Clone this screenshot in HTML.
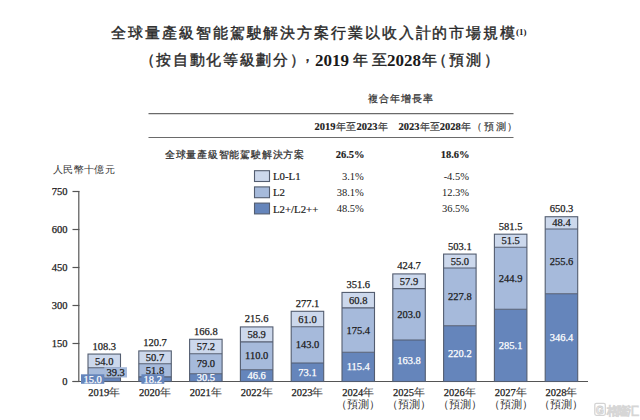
<!DOCTYPE html>
<html lang="zh-Hant"><head><meta charset="utf-8">
<style>
html,body{margin:0;padding:0;background:#fff;width:640px;height:420px;overflow:hidden}
svg{display:block}
text{font-family:"Liberation Serif",serif;fill:#1c1c1c}
.n{font-size:10.5px;stroke:#1c1c1c;stroke-width:0.25px}
.w{fill:#fff;stroke:#fff}
.lg{font-size:10.8px;stroke:#1c1c1c;stroke-width:0.2px}
.u{font-size:9.8px;fill:#333}
.cj{stroke:none;fill:#333}
.v{font-size:10.5px;fill:#222}
.c2{font-family:"Liberation Sans",sans-serif;font-size:9.8px;fill:#333;stroke:#333;stroke-width:0.15px}
.nb{font-size:10.5px;font-weight:bold;stroke:#1c1c1c;stroke-width:0.15px}
.c{font-family:"Liberation Sans",sans-serif;font-size:9.8px;fill:#2e2e2e;stroke:#2e2e2e;stroke-width:0.22px}
.t{font-family:"Liberation Sans",sans-serif;font-size:15.2px;fill:#2a2a2a;stroke:#2a2a2a;stroke-width:0.4px}
.tb{font-family:"Liberation Serif",serif;font-size:17px;font-weight:bold;fill:#1a1a1a}
.sup{font-family:"Liberation Serif",serif;font-size:9px;font-weight:bold;fill:#222}
</style></head><body>
<svg width="640" height="420" viewBox="0 0 640 420">
<line x1="78.8" y1="191" x2="78.8" y2="381.5" stroke="#555" stroke-width="1.2"/>
<line x1="72.5" y1="381.5" x2="588" y2="381.5" stroke="#555" stroke-width="1.2"/>
<line x1="72.5" y1="381.50" x2="79.4" y2="381.50" stroke="#555" stroke-width="1.2"/>
<text x="67.5" y="385.10" text-anchor="end" class="n">0</text>
<line x1="72.5" y1="343.50" x2="79.4" y2="343.50" stroke="#555" stroke-width="1.2"/>
<text x="67.5" y="347.10" text-anchor="end" class="n">150</text>
<line x1="72.5" y1="305.50" x2="79.4" y2="305.50" stroke="#555" stroke-width="1.2"/>
<text x="67.5" y="309.10" text-anchor="end" class="n">300</text>
<line x1="72.5" y1="267.50" x2="79.4" y2="267.50" stroke="#555" stroke-width="1.2"/>
<text x="67.5" y="271.10" text-anchor="end" class="n">450</text>
<line x1="72.5" y1="229.50" x2="79.4" y2="229.50" stroke="#555" stroke-width="1.2"/>
<text x="67.5" y="233.10" text-anchor="end" class="n">600</text>
<line x1="72.5" y1="191.50" x2="79.4" y2="191.50" stroke="#555" stroke-width="1.2"/>
<text x="67.5" y="195.10" text-anchor="end" class="n">750</text>
<rect x="88.00" y="377.70" width="32.5" height="3.80" fill="#6585bb"/>
<rect x="88.00" y="367.74" width="32.5" height="9.96" fill="#a6badb"/>
<rect x="88.00" y="354.06" width="32.5" height="13.68" fill="#ccd8ec"/>
<rect x="88.00" y="354.06" width="32.5" height="27.44" fill="none" stroke="#535d70" stroke-width="1.1"/>
<line x1="88.00" y1="377.70" x2="120.50" y2="377.70" stroke="#535d70" stroke-width="1.1"/>
<line x1="88.00" y1="367.74" x2="120.50" y2="367.74" stroke="#535d70" stroke-width="1.1"/>
<text x="104.25" y="349.56" text-anchor="middle" class="n">108.3</text>
<text x="104.25" y="364.50" text-anchor="middle" class="n">54.0</text>
<text x="104.25" y="396" text-anchor="middle" class="n">2019<tspan class="cj">年</tspan></text>
<rect x="138.80" y="376.89" width="32.5" height="4.61" fill="#6585bb"/>
<rect x="138.80" y="363.77" width="32.5" height="13.12" fill="#a6badb"/>
<rect x="138.80" y="350.92" width="32.5" height="12.84" fill="#ccd8ec"/>
<rect x="138.80" y="350.92" width="32.5" height="30.58" fill="none" stroke="#535d70" stroke-width="1.1"/>
<line x1="138.80" y1="376.89" x2="171.30" y2="376.89" stroke="#535d70" stroke-width="1.1"/>
<line x1="138.80" y1="363.77" x2="171.30" y2="363.77" stroke="#535d70" stroke-width="1.1"/>
<text x="155.05" y="346.42" text-anchor="middle" class="n">120.7</text>
<text x="155.05" y="360.94" text-anchor="middle" class="n">50.7</text>
<text x="155.05" y="396" text-anchor="middle" class="n">2020<tspan class="cj">年</tspan></text>
<rect x="189.60" y="373.77" width="32.5" height="7.73" fill="#6585bb"/>
<rect x="189.60" y="353.76" width="32.5" height="20.01" fill="#a6badb"/>
<rect x="189.60" y="339.27" width="32.5" height="14.49" fill="#ccd8ec"/>
<rect x="189.60" y="339.27" width="32.5" height="42.23" fill="none" stroke="#535d70" stroke-width="1.1"/>
<line x1="189.60" y1="373.77" x2="222.10" y2="373.77" stroke="#535d70" stroke-width="1.1"/>
<line x1="189.60" y1="353.76" x2="222.10" y2="353.76" stroke="#535d70" stroke-width="1.1"/>
<text x="205.85" y="334.77" text-anchor="middle" class="n">166.8</text>
<text x="205.85" y="350.11" text-anchor="middle" class="n">57.2</text>
<text x="205.85" y="367.37" text-anchor="middle" class="n">79.0</text>
<text x="205.85" y="381.24" text-anchor="middle" class="n w">30.5</text>
<text x="205.85" y="396" text-anchor="middle" class="n">2021<tspan class="cj">年</tspan></text>
<rect x="240.40" y="369.69" width="32.5" height="11.81" fill="#6585bb"/>
<rect x="240.40" y="341.83" width="32.5" height="27.87" fill="#a6badb"/>
<rect x="240.40" y="326.91" width="32.5" height="14.92" fill="#ccd8ec"/>
<rect x="240.40" y="326.91" width="32.5" height="54.59" fill="none" stroke="#535d70" stroke-width="1.1"/>
<line x1="240.40" y1="369.69" x2="272.90" y2="369.69" stroke="#535d70" stroke-width="1.1"/>
<line x1="240.40" y1="341.83" x2="272.90" y2="341.83" stroke="#535d70" stroke-width="1.1"/>
<text x="256.65" y="322.41" text-anchor="middle" class="n">215.6</text>
<text x="256.65" y="337.97" text-anchor="middle" class="n">58.9</text>
<text x="256.65" y="359.36" text-anchor="middle" class="n">110.0</text>
<text x="256.65" y="379.20" text-anchor="middle" class="n w">46.6</text>
<text x="256.65" y="396" text-anchor="middle" class="n">2022<tspan class="cj">年</tspan></text>
<rect x="291.20" y="362.98" width="32.5" height="18.52" fill="#6585bb"/>
<rect x="291.20" y="326.75" width="32.5" height="36.23" fill="#a6badb"/>
<rect x="291.20" y="311.30" width="32.5" height="15.45" fill="#ccd8ec"/>
<rect x="291.20" y="311.30" width="32.5" height="70.20" fill="none" stroke="#535d70" stroke-width="1.1"/>
<line x1="291.20" y1="362.98" x2="323.70" y2="362.98" stroke="#535d70" stroke-width="1.1"/>
<line x1="291.20" y1="326.75" x2="323.70" y2="326.75" stroke="#535d70" stroke-width="1.1"/>
<text x="307.45" y="306.80" text-anchor="middle" class="n">277.1</text>
<text x="307.45" y="322.63" text-anchor="middle" class="n">61.0</text>
<text x="307.45" y="348.47" text-anchor="middle" class="n">143.0</text>
<text x="307.45" y="375.84" text-anchor="middle" class="n w">73.1</text>
<text x="307.45" y="396" text-anchor="middle" class="n">2023<tspan class="cj">年</tspan></text>
<rect x="342.00" y="352.27" width="32.5" height="29.23" fill="#6585bb"/>
<rect x="342.00" y="307.83" width="32.5" height="44.43" fill="#a6badb"/>
<rect x="342.00" y="292.43" width="32.5" height="15.40" fill="#ccd8ec"/>
<rect x="342.00" y="292.43" width="32.5" height="89.07" fill="none" stroke="#535d70" stroke-width="1.1"/>
<line x1="342.00" y1="352.27" x2="374.50" y2="352.27" stroke="#535d70" stroke-width="1.1"/>
<line x1="342.00" y1="307.83" x2="374.50" y2="307.83" stroke="#535d70" stroke-width="1.1"/>
<text x="358.25" y="287.93" text-anchor="middle" class="n">351.6</text>
<text x="358.25" y="303.73" text-anchor="middle" class="n">60.8</text>
<text x="358.25" y="333.65" text-anchor="middle" class="n">175.4</text>
<text x="358.25" y="370.48" text-anchor="middle" class="n w">115.4</text>
<text x="358.25" y="396" text-anchor="middle" class="n">2024<tspan class="cj">年</tspan></text>
<text x="358.25" y="408" text-anchor="middle" class="n cj">（預測）</text>
<rect x="392.80" y="340.00" width="32.5" height="41.50" fill="#6585bb"/>
<rect x="392.80" y="288.58" width="32.5" height="51.43" fill="#a6badb"/>
<rect x="392.80" y="273.91" width="32.5" height="14.67" fill="#ccd8ec"/>
<rect x="392.80" y="273.91" width="32.5" height="107.59" fill="none" stroke="#535d70" stroke-width="1.1"/>
<line x1="392.80" y1="340.00" x2="425.30" y2="340.00" stroke="#535d70" stroke-width="1.1"/>
<line x1="392.80" y1="288.58" x2="425.30" y2="288.58" stroke="#535d70" stroke-width="1.1"/>
<text x="409.05" y="269.41" text-anchor="middle" class="n">424.7</text>
<text x="409.05" y="284.84" text-anchor="middle" class="n">57.9</text>
<text x="409.05" y="317.89" text-anchor="middle" class="n">203.0</text>
<text x="409.05" y="364.35" text-anchor="middle" class="n w">163.8</text>
<text x="409.05" y="396" text-anchor="middle" class="n">2025<tspan class="cj">年</tspan></text>
<text x="409.05" y="408" text-anchor="middle" class="n cj">（預測）</text>
<rect x="443.60" y="325.72" width="32.5" height="55.78" fill="#6585bb"/>
<rect x="443.60" y="268.01" width="32.5" height="57.71" fill="#a6badb"/>
<rect x="443.60" y="254.07" width="32.5" height="13.93" fill="#ccd8ec"/>
<rect x="443.60" y="254.07" width="32.5" height="127.43" fill="none" stroke="#535d70" stroke-width="1.1"/>
<line x1="443.60" y1="325.72" x2="476.10" y2="325.72" stroke="#535d70" stroke-width="1.1"/>
<line x1="443.60" y1="268.01" x2="476.10" y2="268.01" stroke="#535d70" stroke-width="1.1"/>
<text x="459.85" y="249.57" text-anchor="middle" class="n">503.1</text>
<text x="459.85" y="264.64" text-anchor="middle" class="n">55.0</text>
<text x="459.85" y="300.46" text-anchor="middle" class="n">227.8</text>
<text x="459.85" y="357.21" text-anchor="middle" class="n w">220.2</text>
<text x="459.85" y="396" text-anchor="middle" class="n">2026<tspan class="cj">年</tspan></text>
<text x="459.85" y="408" text-anchor="middle" class="n cj">（預測）</text>
<rect x="494.40" y="309.27" width="32.5" height="72.23" fill="#6585bb"/>
<rect x="494.40" y="247.23" width="32.5" height="62.04" fill="#a6badb"/>
<rect x="494.40" y="234.19" width="32.5" height="13.05" fill="#ccd8ec"/>
<rect x="494.40" y="234.19" width="32.5" height="147.31" fill="none" stroke="#535d70" stroke-width="1.1"/>
<line x1="494.40" y1="309.27" x2="526.90" y2="309.27" stroke="#535d70" stroke-width="1.1"/>
<line x1="494.40" y1="247.23" x2="526.90" y2="247.23" stroke="#535d70" stroke-width="1.1"/>
<text x="510.65" y="229.69" text-anchor="middle" class="n">581.5</text>
<text x="510.65" y="244.31" text-anchor="middle" class="n">51.5</text>
<text x="510.65" y="281.85" text-anchor="middle" class="n">244.9</text>
<text x="510.65" y="348.99" text-anchor="middle" class="n w">285.1</text>
<text x="510.65" y="396" text-anchor="middle" class="n">2027<tspan class="cj">年</tspan></text>
<text x="510.65" y="408" text-anchor="middle" class="n cj">（預測）</text>
<rect x="545.20" y="293.75" width="32.5" height="87.75" fill="#6585bb"/>
<rect x="545.20" y="228.99" width="32.5" height="64.75" fill="#a6badb"/>
<rect x="545.20" y="216.73" width="32.5" height="12.26" fill="#ccd8ec"/>
<rect x="545.20" y="216.73" width="32.5" height="164.77" fill="none" stroke="#535d70" stroke-width="1.1"/>
<line x1="545.20" y1="293.75" x2="577.70" y2="293.75" stroke="#535d70" stroke-width="1.1"/>
<line x1="545.20" y1="228.99" x2="577.70" y2="228.99" stroke="#535d70" stroke-width="1.1"/>
<text x="561.45" y="212.23" text-anchor="middle" class="n">650.3</text>
<text x="561.45" y="226.46" text-anchor="middle" class="n">48.4</text>
<text x="561.45" y="264.97" text-anchor="middle" class="n">255.6</text>
<text x="561.45" y="341.22" text-anchor="middle" class="n w">346.4</text>
<text x="561.45" y="396" text-anchor="middle" class="n">2028<tspan class="cj">年</tspan></text>
<text x="561.45" y="408" text-anchor="middle" class="n cj">（預測）</text>
<rect x="104.3" y="367.2" width="22.7" height="10.3" fill="#a6badb"/>
<text x="115.6" y="376" text-anchor="middle" class="n">39.3</text>
<rect x="81" y="374.3" width="23.3" height="9.5" fill="#6585bb"/>
<text x="92.6" y="383" text-anchor="middle" class="n w">15.0</text>
<text x="155.05" y="373.93" text-anchor="middle" class="n">51.8</text>
<rect x="141.4" y="374.3" width="22.9" height="9.5" fill="#6585bb"/>
<text x="152.8" y="383" text-anchor="middle" class="n w">18.2</text>
<rect x="254.5" y="170.70" width="15" height="10.8" fill="#ccd8ec" stroke="#535d70" stroke-width="1.1"/>
<text x="273" y="180.20" class="lg">L0-L1</text>
<rect x="254.5" y="186.90" width="15" height="10.8" fill="#a6badb" stroke="#535d70" stroke-width="1.1"/>
<text x="273" y="196.40" class="lg">L2</text>
<rect x="254.5" y="203.10" width="15" height="10.8" fill="#6585bb" stroke="#535d70" stroke-width="1.1"/>
<text x="273" y="212.60" class="lg">L2+/L2++</text>
<text x="363.8" y="180.00" text-anchor="end" class="v">3.1%</text>
<text x="469" y="180.00" text-anchor="end" class="v">-4.5%</text>
<text x="363.8" y="196.20" text-anchor="end" class="v">38.1%</text>
<text x="469" y="196.20" text-anchor="end" class="v">12.3%</text>
<text x="363.8" y="212.40" text-anchor="end" class="v">48.5%</text>
<text x="469" y="212.40" text-anchor="end" class="v">36.5%</text>
<line x1="148.5" y1="113.6" x2="513.5" y2="113.6" stroke="#6a6a6a" stroke-width="1.2"/>
<line x1="148.5" y1="137.5" x2="513.5" y2="137.5" stroke="#6a6a6a" stroke-width="1.2"/>
<text x="372.70 383.68 394.66 405.64 416.62 427.60" y="102" text-anchor="middle" class="c">複合年增長率</text>
<text x="325.1" y="129.5" text-anchor="middle" class="nb">2019</text>
<text x="366.95" y="129.5" text-anchor="middle" class="nb">2023</text>
<text x="409.1" y="129.5" text-anchor="middle" class="nb">2023</text>
<text x="450.3" y="129.5" text-anchor="middle" class="nb">2028</text>
<text x="341 351.25 383.15 424.5 434.9 466.25 476.79999999999995 489.2 501.4 511.65" y="129.8" text-anchor="middle" class="c2">年至年年至年（預測）</text>
<text x="169.75 180.54 191.33 202.12 212.91 223.70 234.49 245.28 256.07 266.86 277.65 288.44 299.23" y="158" text-anchor="middle" class="c">全球量產級智能駕駛解決方案</text>
<text x="364.5" y="158" text-anchor="end" class="nb">26.5%</text>
<text x="469.5" y="158" text-anchor="end" class="nb">18.6%</text>
<text x="57.80 68.18 78.56 88.94 99.32 109.70" y="173.2" text-anchor="middle" class="u">人民幣十億元</text>
<rect x="594.8" y="403.3" width="10.5" height="12" rx="1.5" fill="none" stroke="#d4d4d4" stroke-width="1.3"/>
<text x="600" y="413.6" text-anchor="middle" style="font-family:Liberation Sans;font-size:10px;font-weight:bold;fill:#fff;stroke:#d0d0d0;stroke-width:0.9px">G</text>
<text x="613 623 632.5" y="414.8" text-anchor="middle" style="font-family:Liberation Sans;font-size:11.5px;font-weight:bold;fill:#fff;stroke:#d6d6d6;stroke-width:0.6px">格隆汇</text>
<text x="118.80 135.70 152.60 169.50 186.40 203.30 220.20 237.10 254.00 270.90 287.80 304.70 321.60 338.50 355.40 372.30 389.20 406.10 423.00 439.90 456.80 473.70 490.60 507.50" y="38" text-anchor="middle" class="t">全球量產級智能駕駛解決方案行業以收入計的市場規模</text>
<text x="516" y="34.5" class="sup">(1)</text>
<text x="147.40 163.55 180.30 197.00 213.70 230.40 247.10 263.80 280.50 297.85" y="64.8" text-anchor="middle" class="t">（按自動化等級劃分）</text>
<text x="307.5" y="60.5" text-anchor="middle" class="t">，</text>
<text x="332.1" y="66.3" text-anchor="middle" class="tb">2019</text>
<text x="403.9" y="66.3" text-anchor="middle" class="tb">2028</text>
<text x="360.00 379.35 429.00 439.60 456.60 473.75 491.10" y="64.8" text-anchor="middle" class="t">年至年（預測）</text>
</svg>
</body></html>
